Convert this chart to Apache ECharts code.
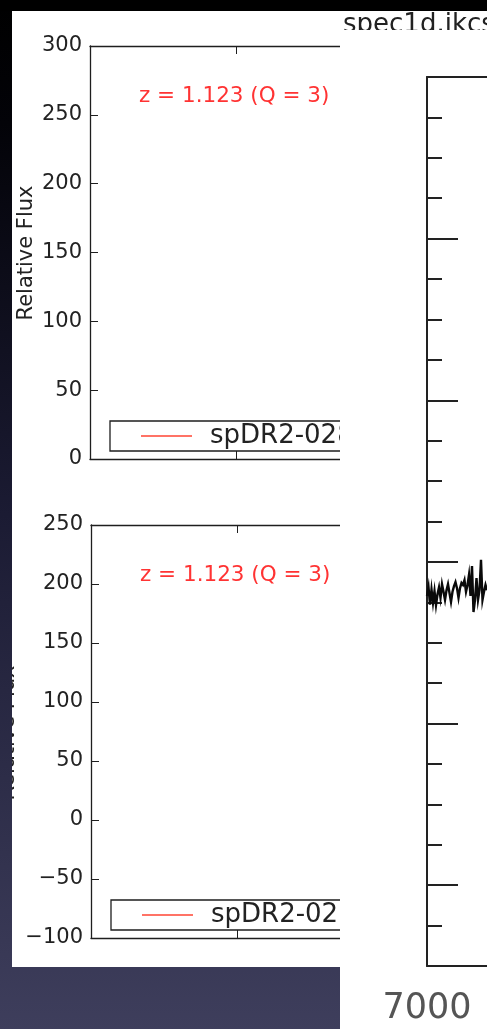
<!DOCTYPE html>
<html><head><meta charset="utf-8">
<script src="https://cdn.jsdelivr.net/npm/echarts@6/dist/echarts.min.js"></script>
<style>html,body{margin:0;padding:0;background:#000;}#c{width:487px;height:1029px;}</style>
</head><body><div id="c"></div>
<script>
// ---- data ----
const annotationText = 'z = 1.123 (Q = 3)';
const legendName = 'spDR2-0288';
const yAxisLabel = 'Relative Flux';
const titleText = 'spec1d.ikcs.0302.fits';
const topYRange = [0, 300];
const bottomYRange = [-100, 250];
const fluxStep = 50;
const specWave = [7000, 7005, 7010, 7015, 7020, 7025, 7030, 7035, 7040, 7045,
  7050, 7055, 7060, 7065, 7070, 7075, 7080, 7085, 7090, 7095,
  7100, 7105, 7110, 7115, 7120, 7125, 7130, 7135, 7140, 7145,
  7150, 7155, 7160, 7165, 7170, 7175, 7180, 7185, 7190, 7195, 7200];
const specFlux = [12.84, 12.62, 13.06, 12.68, 13.01, 12.72, 13.07, 12.80, 12.63, 12.89,
  12.55, 12.74, 12.94, 12.70, 12.55, 12.77, 12.99, 12.74, 12.60, 12.50,
  12.65, 12.89, 12.65, 12.52, 12.57, 12.45, 12.74, 12.57, 12.32, 12.84,
  12.10, 13.24, 12.94, 12.40, 12.94, 12.70, 11.95, 12.94, 12.74, 12.57, 12.70];
const specRowRange = [0, 22];
const specWaveRange = [7000, 8000];

// ---- styles ----
const FF = 'DejaVu Sans';
const ink = '#1e1e1e';
const bgGrad = {type:'linear', x:0, y:0, x2:0, y2:1029, global:true,
  colorStops:[{offset:0,color:'#000000'},{offset:0.12,color:'#030308'},{offset:0.5,color:'#1b1b33'},{offset:1,color:'#3e3e5c'}]};
const minusFmt = v => (v < 0 ? '\u2212' + Math.abs(v) : String(v));

function leftX(gi, pos) {
  return {type:'value', gridIndex:gi, position:pos, min:0, max:2, interval:1, zlevel:0,
    axisLine:{show:true, onZero:false, lineStyle:{color:ink, width:1.3}},
    axisTick:{show:true, inside:true, length:8, lineStyle:{color:ink, width:1}},
    axisLabel:{show:false}, splitLine:{show:false}};
}
function leftY(gi, range) {
  return {type:'value', gridIndex:gi, position:'left', min:range[0], max:range[1], interval:fluxStep, zlevel:0,
    axisLine:{show:true, onZero:false, lineStyle:{color:ink, width:1.3}},
    axisTick:{show:true, inside:true, length:8, lineStyle:{color:ink, width:1}},
    axisLabel:{show:true, margin:8, fontFamily:FF, fontSize:21, color:'#222', formatter:minusFmt},
    splitLine:{show:false}};
}
function legendAt(left, top) {
  return {zlevel:0, data:[legendName], left:left, top:top, orient:'horizontal', icon:'rect',
    padding:[2,120,2,31], borderColor:ink, borderWidth:1.3, itemWidth:51, itemHeight:1.5,
    selectedMode:false, textStyle:{fontFamily:FF, fontSize:26, lineHeight:26, color:'#222', padding:[0,0,0,13]}};
}

const chart = echarts.init(document.getElementById('c'), null, {renderer:'canvas'});
chart.setOption({
  animation:false,
  grid:[
    {left:90, top:46, width:292, height:413, outerBoundsMode:'none', containLabel:false},
    {left:91, top:525, width:292, height:413, outerBoundsMode:'none', containLabel:false},
    {left:427, top:77, width:300, height:889, outerBoundsMode:'none', containLabel:false}
  ],
  xAxis:[
    leftX(0,'bottom'), leftX(0,'top'), leftX(1,'bottom'), leftX(1,'top'),
    {type:'value', gridIndex:2, position:'bottom', min:specWaveRange[0], max:specWaveRange[1], interval:500, zlevel:2,
      axisLine:{show:true, onZero:false, lineStyle:{color:'#222', width:2}}, axisTick:{show:false},
      axisLabel:{show:true, showMinLabel:true, margin:25, fontFamily:FF, fontSize:35, color:'#555', formatter:v => String(v)},
      splitLine:{show:false}},
    {type:'value', gridIndex:2, position:'top', min:specWaveRange[0], max:specWaveRange[1], zlevel:2,
      axisLine:{show:true, onZero:false, lineStyle:{color:'#222', width:2}}, axisTick:{show:false},
      axisLabel:{show:false}, splitLine:{show:false}}
  ],
  yAxis:[
    leftY(0, topYRange), leftY(1, bottomYRange),
    {type:'value', gridIndex:2, position:'left', inverse:true, min:specRowRange[0], max:specRowRange[1], interval:1, zlevel:2,
      axisLine:{show:true, onZero:false, lineStyle:{color:'#222', width:2}},
      axisTick:{show:true, inside:true, length:15, lineStyle:{color:'#222', width:2}},
      axisLabel:{show:false}, splitLine:{show:false}},
    {type:'value', gridIndex:2, position:'left', offset:0, inverse:true, min:specRowRange[0], max:specRowRange[1], interval:4, zlevel:2,
      axisLine:{show:false, onZero:false},
      axisTick:{show:true, inside:true, length:31, lineStyle:{color:'#222', width:2}},
      axisLabel:{show:false}, splitLine:{show:false}}
  ],
  legend:[legendAt(110, 421), legendAt(111, 900)],
  series:[
    {type:'line', name:legendName, xAxisIndex:0, yAxisIndex:0, data:[], symbol:'none', zlevel:0,
      itemStyle:{color:'#ff4433'}, lineStyle:{color:'#ff4433', width:1.5}},
    {type:'line', name:legendName, xAxisIndex:2, yAxisIndex:1, data:[], symbol:'none', zlevel:0,
      itemStyle:{color:'#ff4433'}, lineStyle:{color:'#ff4433', width:1.5}},
    {type:'line', name:'spec1d', xAxisIndex:4, yAxisIndex:2, zlevel:2, symbol:'none', clip:true,
      data: specWave.map((w, i) => [w, specFlux[i]]),
      lineStyle:{color:'#0a0a0a', width:2.4, join:'miter'}, itemStyle:{color:'#0a0a0a'}}
  ],
  graphic:{elements:[
    {type:'rect', zlevel:0, z:-100, silent:true, shape:{x:0, y:0, width:487, height:1029}, style:{fill:bgGrad}},
    {type:'rect', zlevel:0, z:-90, silent:true, shape:{x:12, y:11, width:340, height:956}, style:{fill:'#ffffff'}},
    {type:'text', zlevel:0, z:10, x:139, y:96, style:{text:annotationText, fontFamily:FF, fontSize:21.5, fill:'#ff3333', align:'left', verticalAlign:'middle'}},
    {type:'text', zlevel:0, z:10, x:140, y:575, style:{text:annotationText, fontFamily:FF, fontSize:21.5, fill:'#ff3333', align:'left', verticalAlign:'middle'}},
    {type:'text', zlevel:0, z:10, x:26.5, y:253, rotation:Math.PI/2, style:{text:yAxisLabel, fontFamily:FF, fontSize:21, fill:'#222', align:'center', verticalAlign:'middle'}},
    {type:'text', zlevel:0, z:10, x:9, y:733, rotation:Math.PI/2, style:{text:yAxisLabel, fontFamily:FF, fontSize:21, fill:'#222', align:'center', verticalAlign:'middle'}},
    {type:'rect', zlevel:1, z:0, silent:true, shape:{x:0, y:0, width:12, height:1029}, style:{fill:bgGrad}},
    {type:'rect', zlevel:1, z:0, silent:true, shape:{x:340, y:11, width:147, height:1018}, style:{fill:'#ffffff'}},
    {type:'text', zlevel:2, z:10, x:343, y:25, style:{text:titleText, fontFamily:FF, fontSize:26, fill:'#222', align:'left', verticalAlign:'middle'}},
    {type:'rect', zlevel:2, z:50, silent:true, shape:{x:340, y:30, width:147, height:40}, style:{fill:'#ffffff'}},
    {type:'rect', zlevel:3, z:0, silent:true, shape:{x:0, y:0, width:487, height:11}, style:{fill:'#000000'}}
  ]}
});
</script></body></html>
